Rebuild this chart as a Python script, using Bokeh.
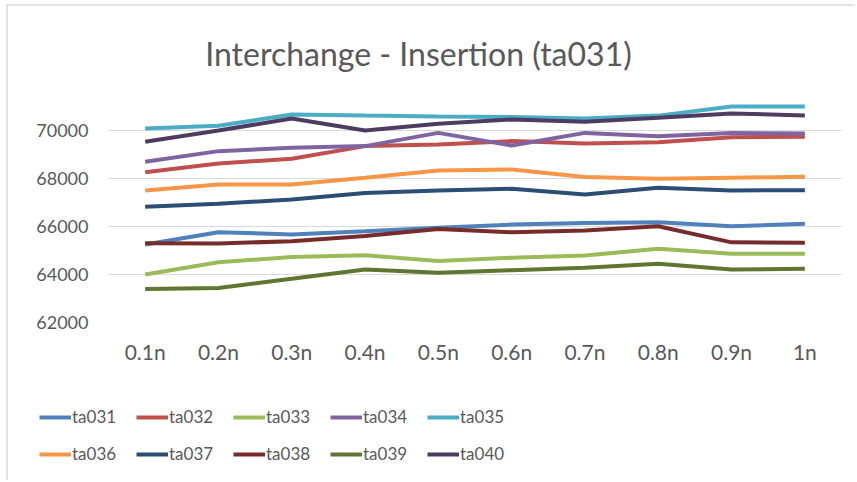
from bokeh.plotting import figure
from bokeh.models import Range1d, FixedTicker, Legend, LegendItem, Label
from bokeh.embed import file_html
from bokeh.resources import INLINE

categories = ["0.1n", "0.2n", "0.3n", "0.4n", "0.5n", "0.6n", "0.7n", "0.8n", "0.9n", "1n"]

ta031 = [65250, 65760, 65670, 65800, 65950, 66080, 66150, 66180, 66010, 66110]
ta032 = [68260, 68625, 68820, 69350, 69420, 69560, 69460, 69510, 69720, 69740]
ta033 = [64000, 64510, 64730, 64800, 64560, 64700, 64790, 65070, 64860, 64860]
ta034 = [68700, 69140, 69280, 69350, 69900, 69375, 69900, 69760, 69900, 69875]
ta035 = [70080, 70200, 70670, 70620, 70580, 70560, 70500, 70620, 71000, 71000]
ta036 = [67500, 67750, 67750, 68030, 68330, 68375, 68060, 67990, 68030, 68070]
ta037 = [66820, 66945, 67125, 67400, 67500, 67570, 67330, 67610, 67500, 67515]
ta038 = [65300, 65290, 65390, 65600, 65900, 65760, 65830, 66010, 65340, 65320]
ta039 = [63400, 63440, 63820, 64210, 64070, 64180, 64280, 64450, 64210, 64240]
ta040 = [69530, 70000, 70500, 70000, 70280, 70460, 70360, 70530, 70710, 70625]

series_names = ["ta031", "ta032", "ta033", "ta034", "ta035",
                "ta036", "ta037", "ta038", "ta039", "ta040"]
series_values = [ta031, ta032, ta033, ta034, ta035, ta036, ta037, ta038, ta039, ta040]
series_colors = ["#4F81BD", "#C0504D", "#9BBB59", "#8064A2", "#4BACC6",
                 "#F79646", "#2C4D75", "#772C2A", "#5F7530", "#4D3B62"]

y_ticks = [62000, 64000, 66000, 68000, 70000]
title_text = "Interchange - Insertion (ta031)"

FONT = "Lato"
TXT = "#595959"
LW = 4
BORDER = "2px solid #E3E3E3"
W = 849


def blank_panel(height, margin):
    f = figure(width=W, height=height, output_backend="svg", toolbar_location=None,
               x_range=Range1d(0, W), y_range=Range1d(height, 0),
               min_border_left=0, min_border_right=0, min_border_top=0,
               min_border_bottom=0, x_axis_location=None, y_axis_location=None,
               margin=margin)
    f.outline_line_color = None
    f.grid.visible = False
    return f


# ---- header with the chart title
hdr = blank_panel(80, (4, 0, 0, 6))
hdr.styles = {"border-left": BORDER, "border-top": BORDER}
hdr.add_layout(Label(x=410, y=47, text=title_text, text_font=FONT,
                     text_font_size="32px", text_color=TXT,
                     text_align="center", text_baseline="middle"))

# ---- main chart
p = figure(width=W, height=303, output_backend="svg", toolbar_location=None,
           x_range=Range1d(-0.5, 9.5), y_range=Range1d(62000, 71125),
           min_border_left=100, min_border_right=16, min_border_top=19,
           min_border_bottom=65, title=None, margin=(0, 0, 0, 6))
p.styles = {"border-left": BORDER}
p.outline_line_color = None
p.background_fill_color = "white"
p.border_fill_color = "white"

xs = list(range(len(categories)))
for name, vals, col in zip(series_names, series_values, series_colors):
    p.line(xs, vals, line_color=col, line_width=LW)

p.xaxis.ticker = FixedTicker(ticks=xs)
p.xaxis.major_label_overrides = {i: c for i, c in enumerate(categories)}
p.yaxis.ticker = FixedTicker(ticks=y_ticks)
for ax in (p.xaxis, p.yaxis):
    ax.axis_line_color = None
    ax.major_tick_line_color = None
    ax.minor_tick_line_color = None
    ax.major_label_text_font = FONT
    ax.major_label_text_color = TXT
p.yaxis.major_label_text_font_size = "18px"
p.xaxis.major_label_text_font_size = "21px"
p.yaxis.major_label_standoff = 14
p.xaxis.major_label_standoff = 10
p.xgrid.grid_line_color = None
p.ygrid.grid_line_color = "#D9D9D9"
p.ygrid.grid_line_width = 1

# ---- legend panel (separate root so it can start left of the chart frame)
lg = blank_panel(93, (0, 0, 0, 6))
lg.y_range = Range1d(0, 1)
lg.x_range = Range1d(0, 1)
lg.styles = {"border-left": BORDER}
items = []
for name, vals, col in zip(series_names, series_values, series_colors):
    # same series, out of this panel's view; only its legend sample shows
    r = lg.line(xs, vals, line_color=col, line_width=LW)
    items.append(LegendItem(label=name, renderers=[r]))

legend = Legend(items=items, ncols=5, location=(31, 16), orientation="horizontal",
                glyph_width=32, glyph_height=20, label_height=20, label_width=48,
                label_standoff=1, spacing=16, padding=0, margin=0,
                border_line_color=None, background_fill_alpha=0,
                label_text_font=FONT, label_text_font_size="17px",
                label_text_color=TXT)
lg.add_layout(legend, "center")

open("out.html", "w").write(file_html([hdr, p, lg], INLINE))
